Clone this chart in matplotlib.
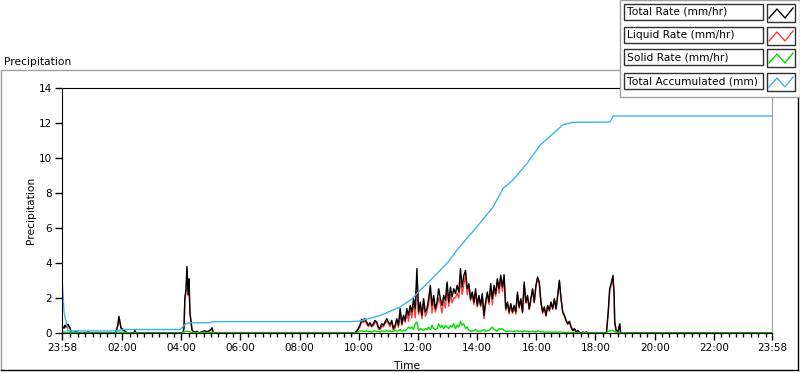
import numpy as np
import matplotlib.pyplot as plt
from matplotlib.patches import Rectangle
from matplotlib.lines import Line2D

plt.rcParams['font.family'] = ['DejaVu Sans']

# x axis is hours since midnight; record runs 23:58 -> 23:58
t_start = -2 / 60
t_end = 23 + 58 / 60

# small showers before the main event (hours, mm/hr)
early_t = [-0.033, 0.0, 0.034, 0.068, 0.10, 0.135, 0.17, 0.2, 0.24, 0.27,
           0.30, 0.37, 0.44, 0.51, 0.58, 0.81, 0.85, 0.91, 1.76, 1.79,
           1.86, 1.89, 1.93, 1.96, 2.03, 2.10, 2.16, 2.23, 2.40, 2.43,
           2.47, 4.02, 4.06, 4.09, 4.12, 4.16, 4.19, 4.23, 4.26, 4.29,
           4.33, 4.36, 4.40, 4.46, 4.53, 4.60, 4.73, 4.80, 4.87, 4.97,
           5.04, 5.07, 5.14, 9.80]
early_rate = [0.3, 0.35, 0.3, 0.45, 0.35, 0.4, 0.5, 0.4, 0.3, 0.1,
              0.05, 0.02, 0.1, 0.03, 0.0, 0.0, 0.08, 0.0, 0.0, 0.05,
              0.5, 0.95, 0.6, 0.3, 0.2, 0.1, 0.02, 0.0, 0.0, 0.15,
              0.0, 0.0, 0.05, 0.3, 2.0, 2.5, 3.8, 2.2, 3.1, 1.2,
              0.6, 0.2, 0.1, 0.05, 0.1, 0.0, 0.1, 0.12, 0.08, 0.15,
              0.3, 0.05, 0.0, 0.0]
early_solid = [0.05, 0.05, 0.05, 0.05, 0.05, 0.05, 0.05, 0.05, 0.05, 0.05,
               0.03, 0.02, 0.03, 0.02, 0, 0, 0.02, 0, 0, 0.02,
               0.05, 0.05, 0.05, 0.05, 0.05, 0.03, 0.02, 0, 0, 0.02,
               0, 0, 0.03, 0.05, 0.08, 0.08, 0.1, 0.08, 0.08, 0.05,
               0.05, 0.05, 0.03, 0.02, 0.03, 0, 0.03, 0.03, 0.03, 0.03,
               0.05, 0.03, 0, 0]

# main event, one reading every 3.4 min from 09:52
main_t0 = 9 + 52 / 60
main_dt = 3.4 / 60
main_rate = [0.0, 0.1, 0.25, 0.44, 0.78, 0.67, 0.82, 0.63, 0.44, 0.59,
             0.40, 0.53, 0.72, 0.63, 0.34, 0.25, 0.53, 0.44, 0.63, 0.82,
             0.63, 0.48, 0.72, 0.25, 0.44, 0.82, 0.44, 1.39, 0.53, 1.01,
             0.72, 1.39, 1.01, 1.58, 1.20, 1.96, 1.39, 3.68, 1.20, 1.77,
             1.01, 1.96, 1.20, 1.39, 1.96, 2.72, 1.58, 2.15, 1.39, 1.77,
             2.53, 1.96, 1.58, 2.15, 1.87, 2.91, 1.77, 2.63, 2.06, 2.53,
             2.25, 2.72, 2.34, 3.68, 2.63, 3.30, 3.58, 2.53, 2.82, 1.96,
             2.34, 1.77, 2.53, 1.58, 2.15, 1.58, 2.25, 1.01, 1.77, 2.34,
             1.77, 2.82,
             1.96, 2.72, 2.25, 3.10, 2.53, 3.30, 2.63, 3.33, 1.39, 1.77,
             1.20, 1.68, 1.20, 1.58, 1.20, 2.34, 1.49, 1.96, 1.20, 2.91,
             1.77, 2.15, 1.39, 1.96, 2.53, 1.77, 2.72, 3.20, 2.91, 1.77,
             1.20, 1.49, 1.01, 1.58, 1.30, 1.77, 1.39, 1.96, 1.39, 2.15,
             3.01, 1.96, 1.20, 1.01, 0.72, 0.53, 0.67, 0.34, 0.15, 0.25,
             0.06, 0.15, 0.02, 0.0, 0.06, 0.0, 0.06, 0.0]
main_solid = [0.0, 0.02, 0.05, 0.1, 0.12, 0.08, 0.1, 0.12, 0.08, 0.1,
              0.06, 0.1, 0.12, 0.08, 0.1, 0.06, 0.12, 0.1, 0.08, 0.15,
              0.1, 0.12, 0.08, 0.1, 0.15, 0.1, 0.12, 0.2, 0.1, 0.15,
              0.12, 0.2, 0.34, 0.25, 0.34, 0.2, 0.53, 0.63, 0.15, 0.25,
              0.2, 0.15, 0.25, 0.2, 0.34, 0.2, 0.44, 0.25, 0.2, 0.25,
              0.53, 0.3, 0.44, 0.25, 0.44, 0.34, 0.25, 0.44, 0.34, 0.53,
              0.25, 0.44, 0.34, 0.67, 0.44, 0.53, 0.25, 0.34, 0.15, 0.12,
              0.1, 0.15, 0.2, 0.1, 0.12, 0.08, 0.15, 0.2, 0.1, 0.12,
              0.15, 0.25,
              0.34, 0.2, 0.15, 0.1, 0.25, 0.2, 0.25, 0.15, 0.1, 0.08,
              0.12, 0.1, 0.08, 0.1, 0.12, 0.1, 0.08, 0.1, 0.06, 0.12,
              0.08, 0.1, 0.06, 0.08, 0.1, 0.06, 0.08, 0.12, 0.1, 0.06,
              0.08, 0.05, 0.06, 0.04, 0.06, 0.05, 0.04, 0.06, 0.05, 0.04,
              0.06, 0.05, 0.04, 0.05, 0.03, 0.04, 0.03, 0.02, 0.03, 0.02,
              0.02, 0.03, 0.01, 0.0, 0.02, 0.0, 0.02, 0.0]

# evening burst
late_t = [18.37, 18.43, 18.48, 18.54, 18.59, 18.63, 18.65, 18.70, 18.76, 18.82, 18.85, 18.88, 23.967]
late_rate = [0, 1.2, 2.53, 2.9, 3.3, 2.2, 0.63, 0.15, 0.06, 0.53, 0.02, 0, 0]
late_solid = [0, 0.1, 0.12, 0.12, 0.15, 0.1, 0.08, 0.05, 0.03, 0.05, 0.01, 0, 0]

# running total (mm)
acc_t = [-0.033, 0.034, 0.17, 1.86, 1.99, 3.96, 4.16, 4.29, 5.0, 5.04,
         9.70, 10.04, 10.72, 11.39, 11.80, 12.07, 12.41, 12.75, 13.02, 13.35,
         13.99, 14.54, 14.88, 15.21, 15.69, 16.13, 16.57, 16.90, 17.24, 18.49,
         18.60, 23.967]
acc_mm = [3.1, 1.2, 0.12, 0.12, 0.2, 0.2, 0.55, 0.58, 0.59, 0.65,
          0.65, 0.68, 1.0, 1.48, 1.96, 2.44, 3.0, 3.58, 4.06, 4.8,
          6.07, 7.2, 8.27, 8.74, 9.7, 10.74, 11.4, 11.9, 12.04, 12.05,
          12.4, 12.4]

main_t = main_t0 + main_dt * np.arange(len(main_rate))
t = np.concatenate([early_t, main_t, late_t])
total = np.concatenate([early_rate, main_rate, late_rate])
solid = np.concatenate([early_solid, main_solid, late_solid])
liquid = np.clip(total - solid, 0, None)  # liquid = total - solid

W, H = 800, 373
def fx(x):
    return x / W
def fy(y):
    return 1 - y / H

fig = plt.figure(figsize=(8, 3.73), dpi=100)
ax = fig.add_axes([fx(62), fy(333), fx(772) - fx(62), fy(88) - fy(333)])

ax.plot(t, liquid, color='#ff3c3c', lw=1)
ax.plot(t, total, color='black', lw=1)
ax.plot(t, solid, color='#00dd00', lw=1)
ax.plot(acc_t, acc_mm, color='#3cb4ea', lw=1)

ax.set_xlim(t_start, t_end)
ax.set_ylim(0, 14)
ax.set_yticks(range(0, 15, 2))

major = [t_start] + list(range(2, 23, 2)) + [t_end]
labels = ['23:58'] + ['%02d:00' % h for h in range(2, 23, 2)] + ['23:58']
ax.set_xticks(major)
ax.set_xticklabels(labels)
minor = [m for m in np.arange(0.25, 24, 0.25) if m % 2 != 0 and m < t_end]
ax.set_xticks(minor, minor=True)

ax.tick_params(axis='both', which='major', direction='out', length=5, width=1,
               pad=2, labelsize=7.5, colors='black')
ax.tick_params(axis='x', which='minor', direction='out', length=3, width=1)
for sp in ['left', 'top', 'bottom']:
    ax.spines[sp].set_color('black')
ax.spines['right'].set_color('#a0a0a0')

fig.text(fx(4), fy(62), 'Precipitation', fontsize=7.7, va='center', ha='left')
fig.text(fx(31), fy(210), 'Precipitation', fontsize=7.7, va='center', ha='center', rotation=90)
fig.text(fx(407), fy(366), 'Time', fontsize=7.7, va='center', ha='center')

# outer frame
frame = [((1, 70), (798, 70), '#a0a0a0'), ((1, 70), (1, 370), '#a0a0a0'),
         ((798, 70), (798, 370), 'black'), ((1, 370), (798, 370), 'black')]
for (x0, y0), (x1, y1), c in frame:
    fig.add_artist(Line2D([fx(x0), fx(x1)], [fy(y0), fy(y1)], color=c, lw=1,
                          transform=fig.transFigure))

# legend panel
fig.add_artist(Rectangle((fx(620), fy(97)), fx(180), 97 / H, facecolor='white',
                         edgecolor='#a0a0a0', lw=1, transform=fig.transFigure, zorder=5))
leg_names = ['Total Rate (mm/hr)', 'Liquid Rate (mm/hr)', 'Solid Rate (mm/hr)', 'Total Accumulated (mm)']
leg_colors = ['black', '#ff3c3c', '#00dd00', '#3cb4ea']
for i, (name, c) in enumerate(zip(leg_names, leg_colors)):
    top = [4, 27, 49, 73][i]
    fig.add_artist(Rectangle((fx(624), fy(top + 16)), fx(139), 16 / H, facecolor='white',
                             edgecolor='#303030', lw=1, transform=fig.transFigure, zorder=6))
    fig.text(fx(627), fy(top + 8), name, fontsize=7.7, va='center', ha='left', zorder=7)
    fig.add_artist(Rectangle((fx(767), fy(top + 18)), fx(28), 18 / H, facecolor='white',
                             edgecolor='#303030', lw=1, transform=fig.transFigure, zorder=6))
    zx = [769, 777, 785, 793]
    zy = [top + 14, top + 5, top + 14, top + 4]
    fig.add_artist(Line2D([fx(v) for v in zx], [fy(v) for v in zy], color=c, lw=1,
                          transform=fig.transFigure, zorder=7))

fig.savefig('out.png', dpi=100, facecolor='white')
